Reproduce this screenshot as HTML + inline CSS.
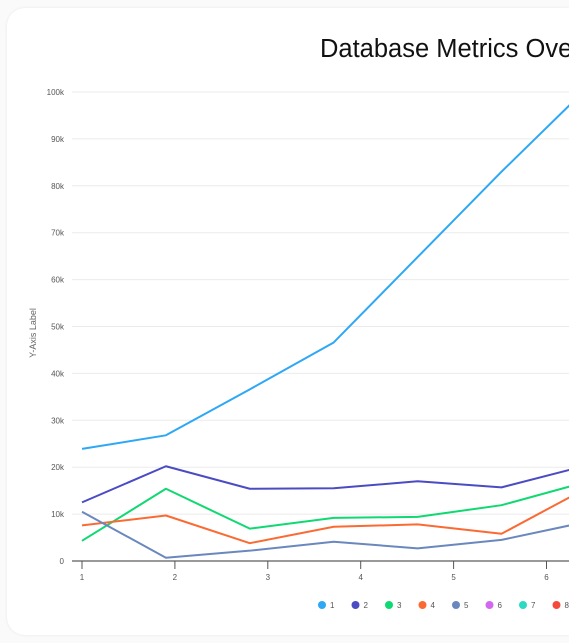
<!DOCTYPE html>
<html><head><meta charset="utf-8"><style>
html,body{margin:0;padding:0;background:#fafafa;width:569px;height:643px;overflow:hidden;font-family:"Liberation Sans",sans-serif}
.wrap{position:absolute;left:0;top:0;width:569px;height:643px;overflow:hidden}
.card{position:absolute;left:7px;top:8px;width:562px;height:627px;background:#fff;border-radius:18px 0 0 18px;box-shadow:0 0 3px rgba(0,0,0,0.08)}
</style></head><body>
<div class="wrap">
<div class="card"></div>
<svg id="chart" width="569" height="643" style="position:absolute;left:0;top:0;overflow:hidden">
<text x="320" y="57" font-size="25.5" fill="#111">Database Metrics Over Time</text>
<text transform="translate(36,333) rotate(-90)" text-anchor="middle" font-size="9" fill="#666">Y-Axis Label</text>
<g id="grid"></g><g id="axes"></g><g id="lines"></g><g id="legend"></g>
</svg>
</div>
<script>
const yTicks=[0,10,20,30,40,50,60,70,80,90,100];
const xTickLabels=["1","2","3","4","5","6"];
const s1=[23.9,26.8,36.6,46.6,64.8,83,100.5];
const s2=[12.5,20.2,15.4,15.5,17.0,15.7,20.3];
const s3=[4.3,15.4,6.9,9.2,9.4,11.9,16.8];
const s4=[7.6,9.7,3.8,7.3,7.8,5.8,15.4];
const s5=[10.5,0.7,2.2,4.1,2.7,4.5,8.3];
const seriesNames=["1","2","3","4","5","6","7","8"];
const colors=["#2ea8f5","#4b4bc4","#10d872","#fb6a33","#6a88bd","#d268f0","#2ed9c3","#f44a3e"];
const series=[s1,s2,s3,s4,s5];
const NS="http://www.w3.org/2000/svg";
const y=v=>561-v*4.69;
const xp=i=>82+i*83.9;
const xt=i=>82+i*92.9;
function mk(t,a,p){const e=document.createElementNS(NS,t);for(const k in a)e.setAttribute(k,a[k]);p.appendChild(e);return e;}
const grid=document.getElementById('grid'),axes=document.getElementById('axes'),lines=document.getElementById('lines'),leg=document.getElementById('legend');
yTicks.forEach(v=>{
 if(v>0){const l=mk('line',{x1:72,x2:569,y1:y(v),y2:y(v),stroke:'#ebebeb','stroke-width':1},grid);
 
 }
 const t=mk('text',{x:64,y:y(v)+3,'text-anchor':'end','font-size':8,fill:'#555'},axes);
 t.textContent=v===0?'0':v+'k';
 
 
});
const ax=mk('line',{x1:72,x2:569,y1:561,y2:561,stroke:'#333','stroke-width':1},axes);


xTickLabels.forEach((lb,i)=>{
 const tk=mk('line',{x1:xt(i),x2:xt(i),y1:561,y2:569,stroke:'#555','stroke-width':1},axes);
 
 
 const t=mk('text',{x:xt(i),y:580,'text-anchor':'middle','font-size':8,fill:'#555'},axes);
 t.textContent=lb;
 
 
});
series.forEach((s,k)=>{
 const p=mk('polyline',{points:s.map((v,i)=>xp(i)+','+y(v)).join(' '),fill:'none',stroke:colors[k],'stroke-width':2,'stroke-linejoin':'round'},lines);
 
 
});
seriesNames.forEach((n,k)=>{
 const g=mk('g',{},leg);
 
 
 const cx=322+k*33.5;
 mk('circle',{cx:cx,cy:605,r:4,fill:colors[k]},g);
 const t=mk('text',{x:cx+8,y:608,'font-size':8,fill:'#555'},g);
 t.textContent=n;
});
</script>
</body></html>
